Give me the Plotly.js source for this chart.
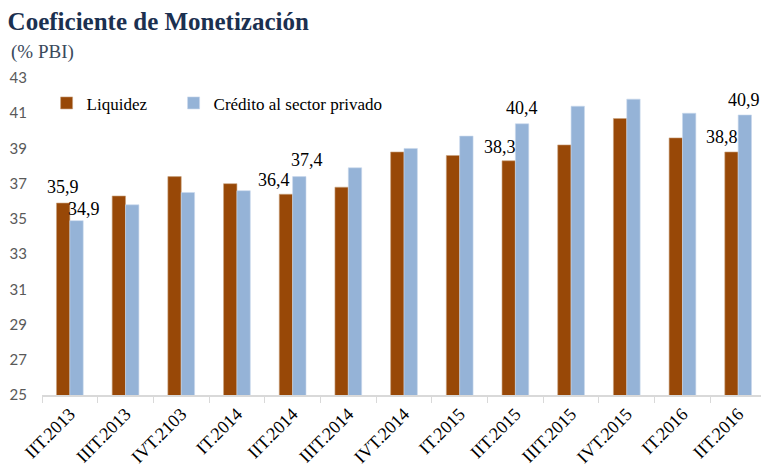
<!DOCTYPE html>
<html>
<head>
<meta charset="utf-8">
<script src="https://cdn.plot.ly/plotly-3.0.1.min.js"></script>
<style>html,body{margin:0;padding:0;background:#fff;}#chart{width:761px;height:466px;}</style>
</head>
<body>
<div id="chart"></div>
<script>
// ---- data ----
const categories = ["IIT.2013","IIIT.2013","IVT.2103","IT.2014","IIT.2014","IIIT.2014","IVT.2014","IT.2015","IIT.2015","IIIT.2015","IVT.2015","IT.2016","IIT.2016"];
const liquidez = [35.9, 36.3, 37.4, 37.0, 36.4, 36.8, 38.8, 38.6, 38.3, 39.2, 40.7, 39.6, 38.8];
const credito  = [34.9, 35.8, 36.5, 36.6, 37.4, 37.9, 39.0, 39.7, 40.4, 41.4, 41.8, 41.0, 40.9];
const yTicks = [25, 27, 29, 31, 33, 35, 37, 39, 41, 43];
// which bars carry a value label: [series, category index]
const labelled = [["L",0],["C",0],["L",4],["C",4],["L",8],["C",8],["L",12],["C",12]];

// ---- styling / layout ----
const bargap = 0.52;
const barOff = (1 - bargap) / 4;
// per-label nudges in px (dx, dy above bar top)
const nudges = {"L0":[0,16],"C0":[7,12],"L4":[-12,14],"C4":[8,17],"L8":[-9,14],"C8":[0,16],"L12":[-9,15],"C12":[-1,15]};

const serif = "Liberation Serif";
const annotations = labelled.map(([s, i]) => {
  const v = s === "L" ? liquidez[i] : credito[i];
  const n = nudges[s + i];
  return {
    x: i + (s === "L" ? -barOff : barOff), y: v, xref: "x", yref: "y",
    text: v.toFixed(1).replace(".", ","), showarrow: false,
    xanchor: "center", yanchor: "middle", xshift: n[0], yshift: n[1],
    font: {family: serif, size: 18, color: "#000"}
  };
});
annotations.push({
  xref: "paper", yref: "paper", x: 0, y: 1, xanchor: "left", yanchor: "bottom",
  xshift: -33, yshift: 13, showarrow: false, text: "(% PBI)",
  font: {family: serif, size: 19, color: "#3A4A5C"}
});

const data = [
  {type: "bar", name: "Liquidez", x: categories, y: liquidez, legend: "legend",
   marker: {color: "#984807", line: {color: "#C9A27F", width: 0.6}}},
  {type: "bar", name: "Crédito al sector privado", x: categories, y: credito, legend: "legend2",
   marker: {color: "#95B3D7", line: {color: "#C9D9EC", width: 0.6}}}
];

const legendBase = {orientation: "h", y: 0.92, xanchor: "left", yanchor: "middle",
  font: {family: serif, size: 17, color: "#000"}, bgcolor: "rgba(0,0,0,0)"};

const layout = {
  width: 761, height: 466,
  margin: {l: 42, r: 0, t: 78, b: 71},
  paper_bgcolor: "#fff", plot_bgcolor: "#fff",
  barmode: "group", bargap: bargap, bargroupgap: 0,
  title: {text: "<b>Coeficiente de Monetización</b>", x: 0.01, xanchor: "left", xref: "container",
          y: 1, yref: "container", yanchor: "top", pad: {t: 12},
          font: {family: serif, size: 25, color: "#1B3050"}},
  xaxis: {type: "category", range: [-0.5, 12.41], tickangle: -45,
          showline: true, linecolor: "#D9D9D9", linewidth: 1.5,
          ticks: "outside", tickson: "boundaries", ticklen: 6, tickcolor: "#D9D9D9",
          showgrid: false, zeroline: false,
          tickfont: {family: serif, size: 18, color: "#000"}},
  yaxis: {range: [25, 43], tickvals: yTicks, showgrid: false, zeroline: false, showline: false,
          ticks: "", ticklabelstandoff: 14,
          tickfont: {family: "Lato", size: 15, color: "#595959"}},
  legend: Object.assign({}, legendBase, {x: 0.0064}),
  legend2: Object.assign({}, legendBase, {x: 0.183}),
  annotations: annotations,
  showlegend: true
};

Plotly.newPlot("chart", data, layout, {displayModeBar: false, staticPlot: true});
</script>
</body>
</html>
